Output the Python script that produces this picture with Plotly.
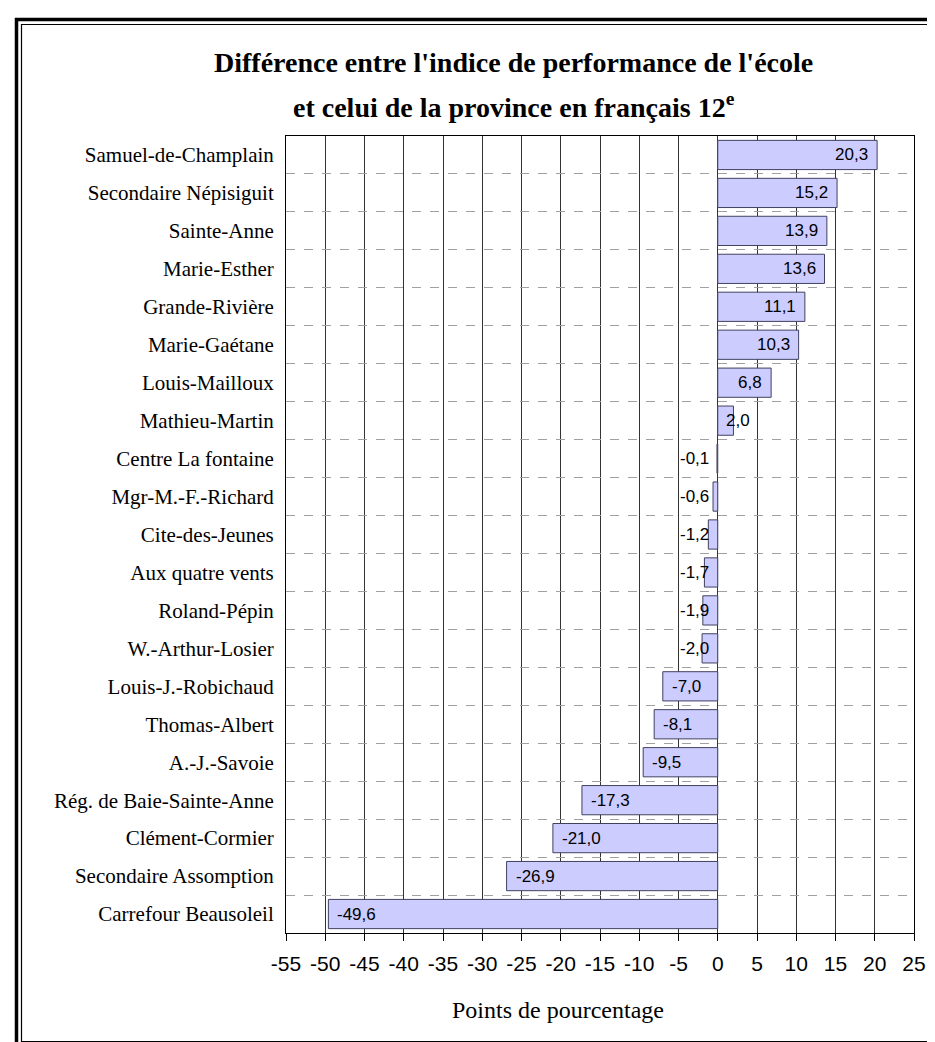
import plotly.graph_objects as go

schools = [
    "Samuel-de-Champlain", "Secondaire Népisiguit", "Sainte-Anne", "Marie-Esther",
    "Grande-Rivière", "Marie-Gaétane", "Louis-Mailloux", "Mathieu-Martin",
    "Centre La fontaine", "Mgr-M.-F.-Richard", "Cite-des-Jeunes", "Aux quatre vents",
    "Roland-Pépin", "W.-Arthur-Losier", "Louis-J.-Robichaud", "Thomas-Albert",
    "A.-J.-Savoie", "Rég. de Baie-Sainte-Anne", "Clément-Cormier",
    "Secondaire Assomption", "Carrefour Beausoleil",
]
differences = [20.3, 15.2, 13.9, 13.6, 11.1, 10.3, 6.8, 2.0, -0.1, -0.6, -1.2,
               -1.7, -1.9, -2.0, -7.0, -8.1, -9.5, -17.3, -21.0, -26.9, -49.6]
x_ticks = [-55, -50, -45, -40, -35, -30, -25, -20, -15, -10, -5, 0, 5, 10, 15, 20, 25]

title_line1 = "Différence entre l'indice de performance de l'école"
title_line2 = "et celui de la province en français 12<sup>e</sup>"
x_title = "Points de pourcentage"

W, H = 935, 1042
L, R, T, B = 278, 906, 128, 925


def px_x(p):
    return (p - L) / (R - L)


def px_y(p):
    return (B - p) / (B - T)


def fmt(v):
    return f"{v:.1f}".replace(".", ",")


fig = go.Figure()
fig.add_trace(go.Bar(
    y=schools, x=differences, orientation="h", width=0.77,
    marker=dict(color="#CCCCFF", line=dict(color="#404060", width=1)),
    hoverinfo="skip",
))

label_font = dict(family="Liberation Sans, Arial", size=17, color="black")
annotations = []
for s, v in zip(schools, differences):
    if v >= 0:
        annotations.append(dict(x=max(v, 5.2), y=s, xref="x", yref="y", text=fmt(v),
                                showarrow=False, xanchor="right", xshift=-7, font=label_font))
    else:
        annotations.append(dict(x=min(v, -6.0), y=s, xref="x", yref="y", text=fmt(v),
                                showarrow=False, xanchor="left", xshift=7, font=label_font))

serif = "Liberation Serif, Times New Roman"
annotations += [
    dict(x=px_x(505), y=px_y(55), xref="paper", yref="paper", text="<b>" + title_line1 + "</b>",
         showarrow=False, xanchor="center", yanchor="middle",
         font=dict(family=serif, size=28, color="black")),
    dict(x=px_x(506), y=px_y(97), xref="paper", yref="paper", text="<b>" + title_line2 + "</b>",
         showarrow=False, xanchor="center", yanchor="middle",
         font=dict(family=serif, size=28, color="black")),
    dict(x=px_x(550), y=px_y(1002), xref="paper", yref="paper", text=x_title, showarrow=False,
         xanchor="center", yanchor="middle",
         font=dict(family=serif, size=24, color="black")),
]

shapes = []
for (x0, y0, x1, y1, w) in [
    (8.5, 10, 8.5, 1040, 3.5), (7, 11.5, 945, 11.5, 3.5), (7, 1038.5, 945, 1038.5, 3.5),
    (13.5, 16, 13.5, 1034, 1.2), (13, 16.5, 945, 16.5, 1.2), (13, 1033.5, 945, 1033.5, 1.2),
]:
    shapes.append(dict(type="line", xref="paper", yref="paper",
                       x0=px_x(x0), y0=px_y(y0), x1=px_x(x1), y1=px_y(y1),
                       line=dict(color="black", width=w)))

fig.update_layout(
    width=W, height=H, autosize=False,
    margin=dict(l=L, r=W - R, t=T, b=H - B),
    paper_bgcolor="white", plot_bgcolor="white",
    showlegend=False,
    annotations=annotations,
    shapes=shapes,
    xaxis=dict(
        range=[-55, 25], tickvals=x_ticks, ticktext=[str(t) for t in x_ticks],
        showgrid=True, gridcolor="#333333", gridwidth=1,
        zeroline=True, zerolinecolor="#333333", zerolinewidth=1,
        showline=True, linecolor="black", linewidth=1, mirror=True,
        ticks="outside", ticklen=7, tickcolor="black", tickwidth=1,
        tickfont=dict(family="Liberation Sans, Arial", size=21, color="black"),
        ticklabelstandoff=5,
    ),
    yaxis=dict(
        type="category", categoryorder="array", categoryarray=schools,
        autorange="reversed", tickson="boundaries",
        showgrid=True, gridcolor="#a0a0a0", gridwidth=1, griddash="dash",
        showline=True, linecolor="black", linewidth=1, mirror=True,
        ticks="", ticklabelstandoff=7,
        tickfont=dict(family=serif, size=21, color="black"),
    ),
)

fig.write_html("out.html")
